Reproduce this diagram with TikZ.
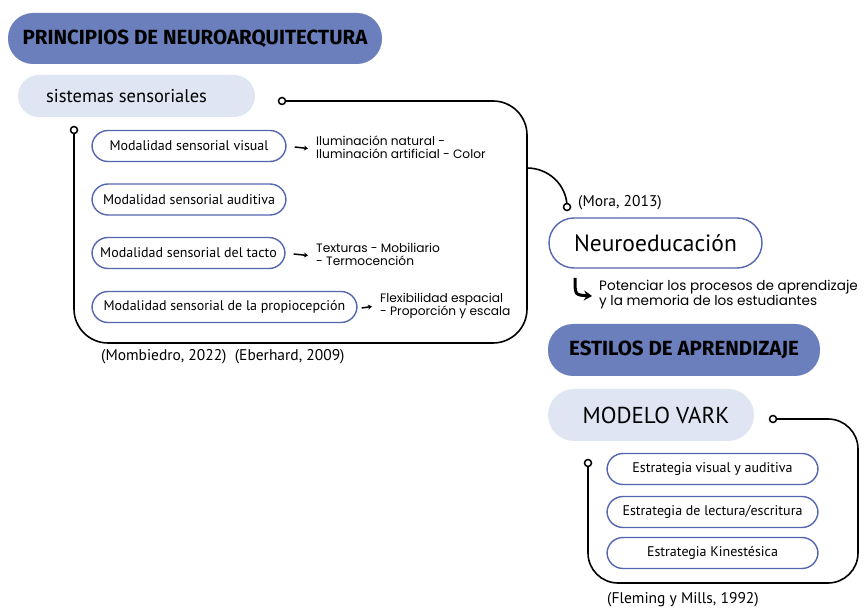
\documentclass[tikz,border=0pt]{standalone}
\usepackage{fontspec}
\setmainfont{PT Sans}
\newfontfamily\geo{Poppins}
\newfontfamily\ttl{Fira Sans}
\usetikzlibrary{arrows.meta}
\definecolor{tblue}{HTML}{6A7FBB}
\definecolor{lblue}{HTML}{E0E5F3}
\definecolor{bblue}{HTML}{5566B0}
\tikzset{
  titlebox/.style={fill=tblue, rounded corners=25pt, inner sep=0pt, font=\ttl\bfseries\fontsize{20.5}{22}\selectfont},
  lightbox/.style={fill=lblue, rounded corners=21pt, inner sep=0pt},
  modbox/.style={draw=bblue, line width=1.4pt, fill=white, rounded corners=16pt, inner sep=0pt, minimum height=31pt, font=\fontsize{14}{16}\selectfont},
  note/.style={font=\geo\fontsize{12.2}{13}\selectfont, align=left, anchor=west, inner sep=0pt},
  cite/.style={font=\fontsize{15.5}{17}\selectfont, inner sep=0pt},
  bracket/.style={line width=1.6pt, rounded corners=34pt},
  dot/.style={circle, draw, line width=1.5pt, fill=white, inner sep=0pt, minimum size=7pt},
  smallarrow/.style={line width=1.5pt, -{Stealth[length=4pt,width=5pt]}}
}
\begin{document}
\begin{tikzpicture}[x=1pt,y=-1pt]
\useasboundingbox (0,0) rectangle (868,609);

% Left part
\node[titlebox, minimum width=374pt, minimum height=51pt] (t1) at (195,38.5) {PRINCIPIOS DE NEUROARQUITECTURA};
\node[lightbox, minimum width=237pt, minimum height=42pt, font=\fontsize{18.5}{20}\selectfont] (ss) at (136.5,96) {sistemas sensoriales\kern20pt};

\node[modbox, minimum width=194pt] (m1) at (189,146) {Modalidad sensorial visual};
\node[modbox, minimum width=194pt] (m2) at (189,199.5) {Modalidad sensorial auditiva};
\node[modbox, minimum width=193pt] (m3) at (188.5,253) {Modalidad sensorial del tacto};
\node[modbox, minimum width=265pt] (m4) at (224.5,307) {Modalidad sensorial de la propiocepción};

\node[note] (n1) at (316,147.5) {Iluminación natural -\\Iluminación artificial - Color};
\node[note] (n3) at (316,254.5) {Texturas - Mobiliario\\- Termocención};
\node[note] (n4) at (380,305.5) {Flexibilidad espacial\\- Proporción y escala};

\draw[smallarrow] (m1.east) ++(8,1) -- ([xshift=-8pt,yshift=-1pt]n1.west);
\draw[smallarrow] (m3.east) ++(8,1) -- ([xshift=-8pt,yshift=-1pt]n3.west);
\draw[smallarrow] (m4.east) ++(4,1) -- ([xshift=-8pt,yshift=-1pt]n4.west);

\node[cite, anchor=west] (c1) at (101,357) {(Mombiedro, 2022)\ \ (Eberhard, 2009)};

\coordinate (d1) at (282,101);
\coordinate (d2) at (74,130);
\draw[bracket] (d1) -- (527,101) -- (527,343) -- (74,343) -- (d2);
\node[dot] at (d1) {};
\node[dot] at (d2) {};

% Neuroeducacion
\coordinate (br) at (527,168);
\coordinate (d3) at (567,207);
\draw[line width=1.6pt] (br) to[out=0,in=90] (d3);
\node[dot] at (d3) {};
\node[cite, anchor=west] (c2) at (578,203) {(Mora, 2013)};

\node[draw=bblue, line width=1.4pt, fill=white, rounded corners=25pt, inner sep=0pt, minimum width=213pt, minimum height=50pt, font=\fontsize{23.5}{26}\selectfont] (ne) at (655.5,243) {Neuroeducación};

\coordinate (a0) at (575,278);
\coordinate (a1) at (592,296);
\draw[line width=3pt, -{Stealth[length=8pt,width=10pt]}] (a0) .. controls (575,295) .. (a1);
\node[note, font=\geo\fontsize{13.6}{15}\selectfont] (pot) at (599,294.5) {Potenciar los procesos de aprendizaje\\y la memoria de los estudiantes};

% Right part
\node[titlebox, minimum width=272pt, minimum height=52pt] (t2) at (684,350) {ESTILOS DE APRENDIZAJE};
\node[lightbox, rounded corners=26pt, minimum width=206pt, minimum height=52pt, font=\fontsize{23}{25}\selectfont] (vk) at (651,415) {\kern10pt MODELO VARK};

\node[modbox, minimum width=211pt] (s1) at (712.5,469) {Estrategia visual y auditiva};
\node[modbox, minimum width=211pt] (s2) at (712.5,512) {Estrategia de lectura/escritura};
\node[modbox, minimum width=211pt] (s3) at (712.5,553) {Estrategia Kinestésica};

\coordinate (d4) at (773,419);
\coordinate (d5) at (588,463);
\draw[bracket, rounded corners=30pt] (d4) -- (858,419) -- (858,583) -- (588,583) -- (d5);
\node[dot] at (d4) {};
\node[dot] at (d5) {};

\node[cite, anchor=west] (c3) at (607,600) {(Fleming y Mills, 1992)};
\end{tikzpicture}
\end{document}
